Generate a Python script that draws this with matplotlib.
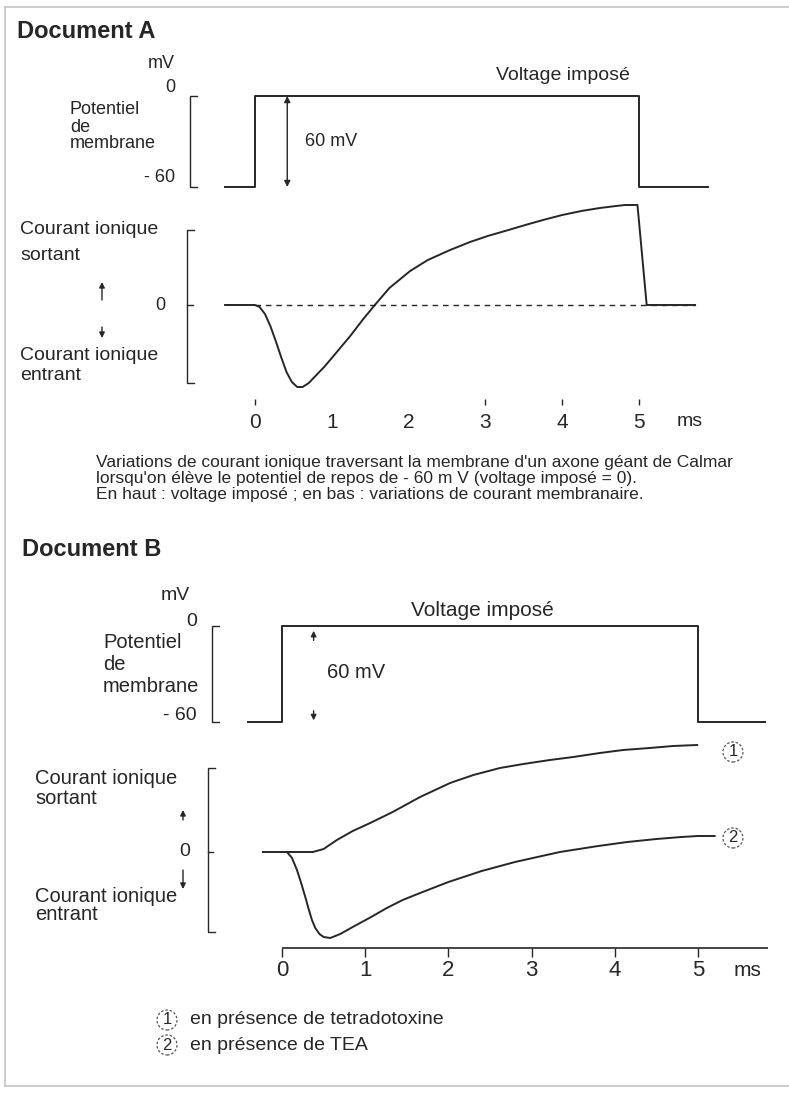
import matplotlib
matplotlib.use("Agg")
import matplotlib.pyplot as plt

W, H = 789, 1093
DPI = 100
INK = '#262626'

plt.rcParams['font.family'] = ['Liberation Sans', 'DejaVu Sans']

# ---- Document A : voltage imposé (ms, mV)
step_t_a = [-0.39, 0, 0, 5, 5, 5.9]
step_mv_a = [-60, -60, 0, 0, -60, -60]

# ---- Document A : courant ionique (ms, unités arbitraires)
cur_t_a = [-0.39, 0, 0.06, 0.13, 0.2, 0.27, 0.34, 0.41, 0.48, 0.55, 0.62, 0.7,
           0.8, 0.9, 1.0, 1.12, 1.24, 1.4, 1.56, 1.75, 2.02, 2.25, 2.54, 2.8,
           3.03, 3.3, 3.52, 3.75, 4.0, 4.25, 4.49, 4.7, 4.82, 4.98, 5.1, 5.73]
cur_i_a = [0, 0, -2, -9, -21, -36, -52, -67, -77, -82, -82, -78,
           -70, -62, -53, -42, -31, -15, 0, 17, 34, 45, 55, 63,
           69, 75, 80, 85, 90, 94, 97, 99, 100, 100, 0, 0]

ticks_a = [0, 3, 4, 5]          # graduations encore visibles
tick_vals = [0, 1, 2, 3, 4, 5]
tick_labels = ['0', '1', '2', '3', '4', '5']

# ---- Document B : voltage imposé
step_t_b = [-0.41, 0, 0, 5, 5, 5.8]
step_mv_b = [-60, -60, 0, 0, -60, -60]

# ---- Document B : courant en présence de tétrodotoxine (1)
ttx_t = [-0.23, 0.37, 0.5, 0.66, 0.85, 1.06, 1.33, 1.66, 2.02, 2.3, 2.62,
         2.9, 3.22, 3.5, 3.82, 4.1, 4.42, 4.7, 4.99]
ttx_i = [0, 0, 3, 12, 21, 29, 40, 55, 69, 77, 84,
         88, 92, 95, 99, 102, 104, 106, 107]

# ---- Document B : courant en présence de TEA (2)
tea_t = [0.06, 0.12, 0.18, 0.23, 0.28, 0.32, 0.36, 0.4, 0.45, 0.5, 0.58,
         0.7, 0.85, 1.05, 1.26, 1.45, 1.66, 2.0, 2.4, 2.8, 3.34, 3.8, 4.15,
         4.5, 4.8, 5.0, 5.2]
tea_i = [0, -6, -18, -31, -45, -57, -68, -76, -82, -85, -86,
         -82, -75, -66, -56, -48, -41, -30, -19, -10, 0, 6, 10,
         13, 15, 16, 16]

caption_a = [
    "Variations de courant ionique traversant la membrane d'un axone géant de Calmar",
    "lorsqu'on élève le potentiel de repos de - 60 m V (voltage imposé = 0).",
    "En haut : voltage imposé ; en bas : variations de courant membranaire.",
]
legend_b = ["en présence de tetradotoxine", "en présence de TEA"]


fig = plt.figure(figsize=(W / DPI, H / DPI), dpi=DPI)
ov = fig.add_axes([0, 0, 1, 1])
ov.set_xlim(0, W)
ov.set_ylim(H, 0)
ov.axis('off')


def panel(px0, px1, t0, t1, py_top, py_bot, v_top, v_bot):
    ax = fig.add_axes([px0 / W, 1 - py_bot / H, (px1 - px0) / W, (py_bot - py_top) / H])
    ax.set_xlim(t0, t1)
    ax.set_ylim(v_bot, v_top)
    ax.axis('off')
    return ax


def txt(x, y, s, size, ha='left', va='center', **kw):
    ov.text(x, y, s, fontsize=size, ha=ha, va=va, color=INK, **kw)


def bracket(ax, t, lo, hi, width, mid=None):
    ax.plot([t + width, t, t, t + width], [hi, hi, lo, lo], color=INK, lw=1.0,
            clip_on=False, solid_joinstyle='miter')
    if mid is not None:
        ax.plot([t, t + width * 0.8], [mid, mid], color=INK, lw=1.0, clip_on=False)


def small_arrow(x, y0, y1):
    ov.annotate('', xy=(x, y1), xytext=(x, y0),
                arrowprops=dict(arrowstyle='-|>', color=INK, lw=1.0,
                                mutation_scale=8, shrinkA=0, shrinkB=0))


# cadre
ov.plot([5, W], [7, 7], color='#c4c4c4', lw=1.2)
ov.plot([5, 5], [7, 1086], color='#c4c4c4', lw=1.2)
ov.plot([5, W], [1086, 1086], color='#c4c4c4', lw=1.2)

# ================= Document A =================
txt(17, 32, "Document A", 17, weight='bold')

axv = panel(255, 639, 0, 5, 96, 187, 0, -60)
axv.plot(step_t_a, step_mv_a, color=INK, lw=1.4, clip_on=False)
bracket(axv, -0.85, -60, 0, 0.09)
axv.annotate('', xy=(0.42, 0), xytext=(0.42, -60),
             arrowprops=dict(arrowstyle='<|-|>', color=INK, lw=1.0,
                             mutation_scale=9, shrinkA=0, shrinkB=0))
txt(175, 64, "mV", 13, ha='right')
txt(175, 88, "0", 13, ha='right')
txt(175, 178, "- 60", 13, ha='right')
txt(70, 110, "Potentiel", 13)
txt(70, 127, "de", 13)
txt(70, 144, "membrane", 13)
txt(305, 142, "60 mV", 13)
txt(563, 76, "Voltage imposé", 14, ha='center')

axi = panel(255, 639, 0, 5, 205, 305, 100, 0)
axi.hlines(0, 0, 5.73, colors=INK, linestyles=(0, (4, 3.5)), lw=1.0, clip_on=False)
axi.plot(cur_t_a, cur_i_a, color=INK, lw=1.4, clip_on=False)
bracket(axi, -0.885, -78, 75, 0.09, mid=0)
axi.vlines(ticks_a, -100, -94, colors=INK, lw=1.0, clip_on=False)
for v, lab in zip(tick_vals, tick_labels):
    axi.text(v, -117, lab, fontsize=15, ha='center', va='center', color=INK)
axi.text(5.66, -117, "ms", fontsize=14, ha='center', va='center', color=INK)

txt(20, 230, "Courant ionique", 14)
txt(20, 255, "sortant", 14)
small_arrow(102, 300, 282)
txt(165, 305, "0", 13, ha='right')
small_arrow(102, 327, 338)
txt(20, 355, "Courant ionique", 14)
txt(20, 375, "entrant", 14)

# légende du document A : un seul bloc de texte, interligne serré
txt(96, 455, "\n".join(caption_a), 12.5, va='top', linespacing=1.08)

# ================= Document B =================
txt(22, 550, "Document B", 17, weight='bold')

axv2 = panel(282, 698, 0, 5, 626, 722, 0, -60)
axv2.plot(step_t_b, step_mv_b, color=INK, lw=1.4, clip_on=False)
bracket(axv2, -0.84, -60, 0, 0.08)
axv2.annotate('', xy=(0.38, -3), xytext=(0.38, -9),
              arrowprops=dict(arrowstyle='-|>', color=INK, lw=1.0,
                              mutation_scale=8, shrinkA=0, shrinkB=0))
axv2.annotate('', xy=(0.38, -59), xytext=(0.38, -53),
              arrowprops=dict(arrowstyle='-|>', color=INK, lw=1.0,
                              mutation_scale=8, shrinkA=0, shrinkB=0))
txt(190, 595, "mV", 14, ha='right')
txt(197, 621, "0", 14, ha='right')
txt(197, 715, "- 60", 14, ha='right')
txt(103, 643, "Potentiel", 14.5)
txt(103, 665, "de", 14.5)
txt(103, 687, "membrane", 14.5)
txt(327, 672, "60 mV", 14.5)
txt(482, 611, "Voltage imposé", 15, ha='center')

axi2 = panel(282, 698, 0, 5, 752, 852, 100, 0)
axi2.plot(ttx_t, ttx_i, color=INK, lw=1.4, clip_on=False)
axi2.plot(tea_t, tea_i, color=INK, lw=1.4, clip_on=False)
bracket(axi2, -0.89, -80, 84, 0.08, mid=0)
axi2.hlines(-96, 0, 5.84, colors=INK, lw=1.2, clip_on=False)
axi2.vlines(tick_vals, -105, -96, colors=INK, lw=1.0, clip_on=False)
for v, lab in zip(tick_vals, tick_labels):
    axi2.text(v, -118, lab, fontsize=16, ha='center', va='center', color=INK)
axi2.text(5.59, -118, "ms", fontsize=15, ha='center', va='center', color=INK)
circ = dict(boxstyle='circle,pad=0.15', fc='white', ec='#555555', lw=0.9, ls=(0, (2, 1.5)))
axi2.text(5.42, 100, "1", fontsize=12, ha='center', va='center', color=INK, bbox=circ)
axi2.text(5.42, 14, "2", fontsize=12, ha='center', va='center', color=INK, bbox=circ)

txt(35, 778, "Courant ionique", 14.5)
txt(35, 798, "sortant", 14.5)
small_arrow(183, 820, 810)
txt(190, 851, "0", 14, ha='right')
small_arrow(183, 870, 889)
txt(35, 896, "Courant ionique", 14.5)
txt(35, 915, "entrant", 14.5)

for k, line in enumerate(legend_b):
    y = 1020 + 25 * k
    txt(167, y, str(k + 1), 12, ha='center', bbox=circ)
    txt(190, y, line, 14)

fig.savefig("out.png", dpi=DPI)
